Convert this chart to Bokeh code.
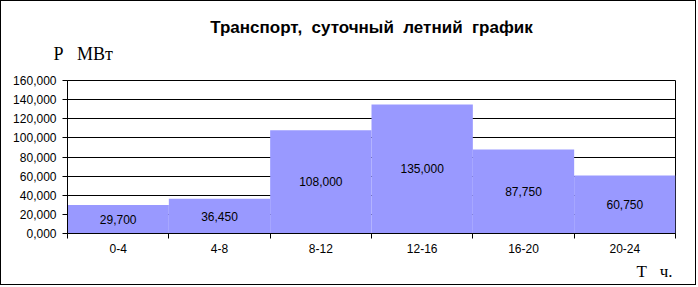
from bokeh.plotting import figure
from bokeh.models import Range1d, FixedTicker, Title, ColumnDataSource
from bokeh.embed import file_html
from bokeh.resources import INLINE
from bokeh.core.properties import value

NB = "\u00a0"

# Data
periods = ["0-4", "4-8", "8-12", "12-16", "16-20", "20-24"]
power = [29.7, 36.45, 108.0, 135.0, 87.75, 60.75]
y_ticks = [0, 20, 40, 60, 80, 100, 120, 140, 160]

title_text = f"Транспорт,{NB}{NB}суточный{NB}{NB}летний{NB}{NB}график"
y_caption = f"Р{NB}{NB}{NB}МВт"
x_caption = f"Т{NB}{NB}{NB}ч."


def fmt(v):
    return f"{v:.3f}".replace(".", ",")


centers = [i + 0.5 for i in range(len(periods))]
bounds = list(range(len(periods) + 1))

src = ColumnDataSource(dict(
    x=centers,
    top=power,
    mid=[v / 2 for v in power],
    lab=[fmt(v) for v in power],
))

p = figure(width=696, height=285, output_backend="svg", toolbar_location=None,
           title_location=None,
           x_range=Range1d(0, len(periods)), y_range=Range1d(0, y_ticks[-1]),
           min_border_left=66, min_border_right=22, min_border_top=79, min_border_bottom=53,
           background_fill_color="white", border_fill_color="white")
p.styles = {"border": "1px solid black"}

p.outline_line_color = "black"
p.outline_line_width = 1
p.xgrid.visible = False
p.ygrid.grid_line_color = "black"
p.ygrid.grid_line_width = 1
p.ygrid.ticker = FixedTicker(ticks=y_ticks)

p.vbar(x="x", top="top", width=1, source=src, fill_color="#9999FF", line_color=None)
p.text(x="x", y="mid", text="lab", source=src, text_align="center", text_baseline="middle",
       text_font=value("Liberation Sans"), text_font_size="12px", text_color="black")

# Y axis
ya = p.yaxis[0]
ya.ticker = FixedTicker(ticks=y_ticks)
ya.major_label_overrides = {t: fmt(t) for t in y_ticks}
ya.axis_line_color = "black"
ya.major_tick_out = 5
ya.major_tick_in = 0
ya.minor_tick_out = 0
ya.minor_tick_in = 0
ya.major_label_text_font = "Liberation Sans"
ya.major_label_text_font_size = "12px"
ya.major_label_text_color = "black"
ya.major_label_standoff = 6

# X axis
xa = p.xaxis[0]
xa.ticker = FixedTicker(ticks=centers, minor_ticks=bounds)
xa.major_label_overrides = {c: n for c, n in zip(centers, periods)}
xa.axis_line_color = "black"
xa.major_tick_out = 0
xa.major_tick_in = 0
xa.minor_tick_out = 5
xa.minor_tick_in = 0
xa.minor_tick_line_color = "black"
xa.major_label_text_font = "Liberation Sans"
xa.major_label_text_font_size = "12px"
xa.major_label_text_color = "black"
xa.major_label_standoff = 5

# Titles stacked above the frame (first added is closest to the frame)
spacer = Title(text=" ", text_font_size="10px", standoff=4)
p.add_layout(spacer, "above")
cap_y = Title(text=y_caption, align="left", offset=-14, standoff=0,
              text_font="Liberation Serif", text_font_style="normal",
              text_font_size="18px", text_color="black")
p.add_layout(cap_y, "above")
main_title = Title(text=title_text, align="center", standoff=10,
                   text_font="Liberation Sans", text_font_style="bold",
                   text_font_size="17px", text_color="black")
p.add_layout(main_title, "above")

cap_x = Title(text=x_caption, align="right", offset=3, standoff=8,
              text_font="Liberation Serif", text_font_style="normal",
              text_font_size="17px", text_color="black")
p.add_layout(cap_x, "below")

open("out.html", "w").write(file_html(p, INLINE))
